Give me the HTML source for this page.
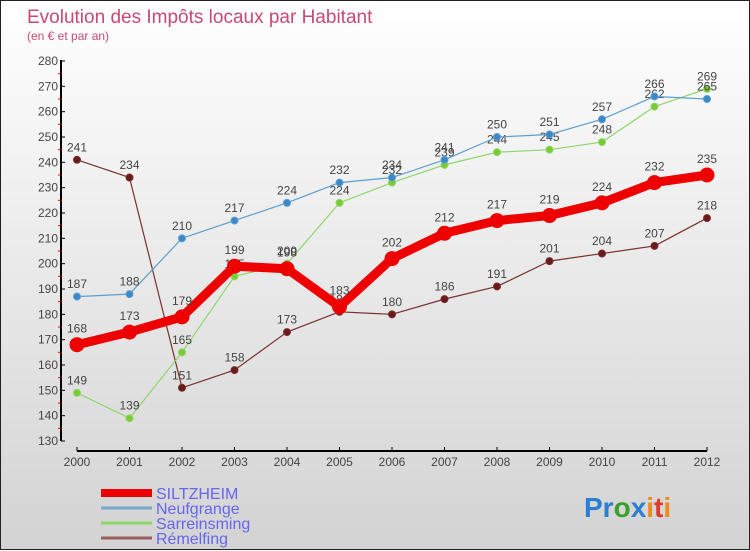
<!DOCTYPE html>
<html><head><meta charset="utf-8"><style>
html,body{margin:0;padding:0;}
body{width:750px;height:550px;overflow:hidden;font-family:"Liberation Sans",sans-serif;}
#wrap{position:relative;width:748px;height:548px;border:1px solid #222;background:linear-gradient(#ffffff,#d3d3d3);}
svg{position:absolute;left:0;top:0;}
</style></head><body>
<div id="wrap">
<svg id="chart" width="750" height="550">
<text x="26" y="22" font-size="19" fill="#c84a70">Evolution des Impôts locaux par Habitant</text>
<text x="26" y="39" font-size="12" fill="#c84a70">(en € et par an)</text>
<g id="axes"></g><g id="series"></g><g id="legend"></g>
<text x="583" y="516" font-size="28" font-weight="bold"><tspan fill="#2a7fd0">Pr</tspan><tspan fill="#3aa02a">o</tspan><tspan fill="#2a7fd0">x</tspan><tspan fill="#f08a1c">i</tspan><tspan fill="#e03a2a">t</tspan><tspan fill="#f08a1c">i</tspan></text>
</svg>
</div>
<script>
const years=[2000,2001,2002,2003,2004,2005,2006,2007,2008,2009,2010,2011,2012];
const yTicks=[130,140,150,160,170,180,190,200,210,220,230,240,250,260,270,280];
const siltzheim=[168,173,179,199,198,183,202,212,217,219,224,232,235];
const neufgrange=[187,188,210,217,224,232,234,241,250,251,257,266,265];
const sarreinsming=[149,139,165,195,200,224,232,239,244,245,248,262,269];
const remelfing=[241,234,151,158,173,181,180,186,191,201,204,207,218];
const seriesNames=["SILTZHEIM","Neufgrange","Sarreinsming","Rémelfing"];

const NS="http://www.w3.org/2000/svg";
function X(i){return 76+i*(706-76)/(years.length-1);}
function Y(v){return 60+(280-v)*(440-60)/150;}
function mk(tag,attrs,parent){const e=document.createElementNS(NS,tag);for(const k in attrs)e.setAttribute(k,attrs[k]);parent.appendChild(e);return e;}
const axes=document.getElementById('axes');
let yl=mk('line',{x1:60,y1:59,x2:60,y2:440,stroke:'#000','stroke-width':2},axes);


yTicks.forEach(v=>{
  mk('line',{x1:60,y1:Y(v),x2:64,y2:Y(v),stroke:'#000'},axes);
  if(v<280) mk('line',{x1:57,y1:Y(v+5),x2:60,y2:Y(v+5),stroke:'#e00'},axes);
  const t=mk('text',{x:57,y:Y(v)+4,'font-size':12,fill:'#444','text-anchor':'end'},axes);
  t.textContent=v;
  
  
});
let xl=mk('line',{x1:76,y1:450,x2:706,y2:450,stroke:'#000','stroke-width':2},axes);


years.forEach((yr,i)=>{
  mk('line',{x1:X(i),y1:446,x2:X(i),y2:450,stroke:'#000'},axes);
  const t=mk('text',{x:X(i),y:465,'font-size':12,fill:'#444','text-anchor':'middle'},axes);
  t.textContent=yr;
  
  
});
const sg=document.getElementById('series');
function draw(data,color,dot,w,r,name){
  const g=mk('g',{},sg);
  
  
  const pl=mk('polyline',{points:data.map((v,i)=>X(i)+','+Y(v)).join(' '),fill:'none',stroke:color,'stroke-width':w,'stroke-linejoin':'round'},g);
  
  
  data.forEach((v,i)=>{
    const c=mk('circle',{cx:X(i),cy:Y(v),r:r,fill:dot,stroke:color,'stroke-width':1},g);
    
    
    const t=mk('text',{x:X(i),y:Y(v)-(r+5),'font-size':12,fill:'#444','text-anchor':'middle'},g);
    t.textContent=v;
    
    
  });
}
draw(remelfing,'#7a3030','#6a1a1a',1.2,3.5,'remelfing');
draw(sarreinsming,'#8fd66a','#77cc33',1.2,3.5,'sarreinsming');
draw(neufgrange,'#5c9fd0','#3a88c8',1.2,3.5,'neufgrange');
draw(siltzheim,'#ee0000','#ee0000',9,7,'siltzheim');
const lg=document.getElementById('legend');
const lcolors=['#ee0000','#7aa8d0','#8fd66a','#9a6060'];
const lw=[8,3,3,3];
seriesNames.forEach((n,i)=>{
  const y=492+i*15;
  const g=mk('g',{},lg);
  
  
  mk('line',{x1:100,y1:y,x2:151,y2:y,stroke:lcolors[i],'stroke-width':lw[i]},g);
  const t=mk('text',{x:155,y:y+6,'font-size':16,fill:'#6666ee'},g);
  t.textContent=n;
});
</script>
</body></html>
